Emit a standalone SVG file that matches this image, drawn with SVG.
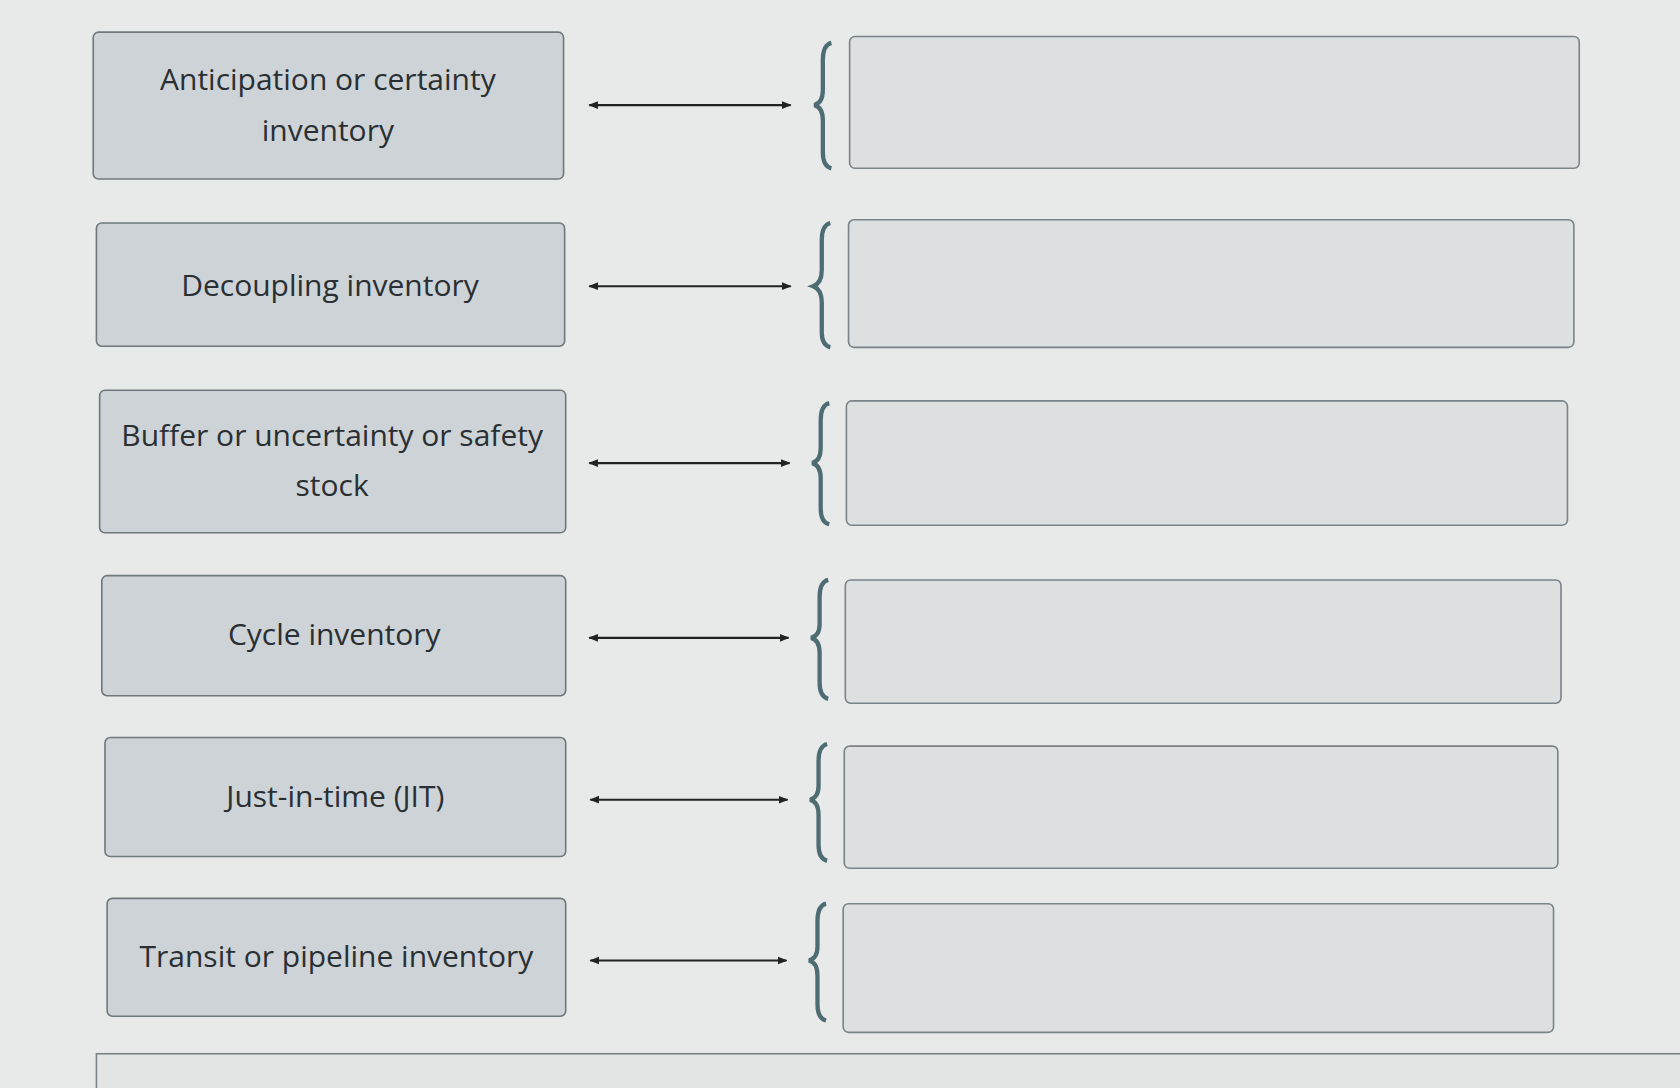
<svg xmlns="http://www.w3.org/2000/svg" width="1680" height="1088" viewBox="0 0 1680 1088">
<defs>
<marker id="ah" viewBox="0 0 10 10" refX="9" refY="5" markerWidth="4.5" markerHeight="4.5" orient="auto-start-reverse"><path d="M0,1 L10,5 L0,9 z" fill="#222"/></marker>
</defs>
<style>
.lb{fill:#cdd3d6;stroke:#6e787d;stroke-width:1.5}
.rb{fill:#dde0e1;stroke:#7a8388;stroke-width:1.5}
.t{font-family:"Open Sans","Liberation Sans",sans-serif;font-size:28px;fill:#2a2f33;text-anchor:middle}
.ar{stroke:#222;stroke-width:2;fill:none;marker-start:url(#ah);marker-end:url(#ah)}
.br{stroke:#4e6c74;stroke-width:4;fill:none}
</style>
<rect width="1680" height="1088" fill="#e8e9e9"/>
<g transform="scale(1.0714 1.072)">
<g id="n1"><rect class="lb" x="87" y="30" width="439" height="137" rx="5"/><text class="t" x="306" y="84">Anticipation or certainty</text><text class="t" x="306" y="132">inventory</text></g>
<g id="n2"><rect class="lb" x="90" y="208" width="437" height="115" rx="5"/><text class="t" x="308" y="276">Decoupling inventory</text></g>
<g id="n3"><rect class="lb" x="93" y="364" width="435" height="133" rx="5"/><text class="t" x="310" y="416">Buffer or uncertainty or safety</text><text class="t" x="310" y="463">stock</text></g>
<g id="n4"><rect class="lb" x="95" y="537" width="433" height="112" rx="5"/><text class="t" x="312" y="602">Cycle inventory</text></g>
<g id="n5"><rect class="lb" x="98" y="688" width="430" height="111" rx="5"/><text class="t" x="313" y="753">Just-in-time (JIT)</text></g>
<g id="n6"><rect class="lb" x="100" y="838" width="428" height="110" rx="5"/><text class="t" x="314" y="902">Transit or pipeline inventory</text></g>
<g id="r1"><rect class="rb" x="793" y="34" width="681" height="123" rx="5"/></g>
<g id="r2"><rect class="rb" x="792" y="205" width="677" height="119" rx="5"/></g>
<g id="r3"><rect class="rb" x="790" y="374" width="673" height="116" rx="5"/></g>
<g id="r4"><rect class="rb" x="789" y="541" width="668" height="115" rx="5"/></g>
<g id="r5"><rect class="rb" x="788" y="696" width="666" height="114" rx="5"/></g>
<g id="r6"><rect class="rb" x="787" y="843" width="663" height="120" rx="5"/></g>
<rect x="90" y="983" width="1500" height="60" fill="#e4e6e6" stroke="#7a8388" stroke-width="1.5"/>
<g id="connectors">
<line class="ar" x1="550" y1="98" x2="738" y2="98"/>
<line class="ar" x1="550" y1="267" x2="738" y2="267"/>
<line class="ar" x1="550" y1="432" x2="737" y2="432"/>
<line class="ar" x1="550" y1="595" x2="736" y2="595"/>
<line class="ar" x1="551" y1="746" x2="735" y2="746"/>
<line class="ar" x1="551" y1="896" x2="734" y2="896"/>
<path class="br" d="M776,40 Q768,42 768,56 L768,84 Q768,96 760,98 Q768,100 768,112 L768,142 Q768,155 776,157"/>
<path class="br" d="M775,208 Q767,210 767,224 L767,252 Q767,264 759,267 Q767,270 767,282 L767,310 Q767,322 775,324"/>
<path class="br" d="M774,376 Q766,378 766,392 L766,418 Q766,430 758,432 Q766,434 766,446 L766,474 Q766,487 774,489"/>
<path class="br" d="M773,541 Q765,543 765,557 L765,582 Q765,593 757,595 Q765,597 765,609 L765,637 Q765,650 773,652"/>
<path class="br" d="M772,694 Q764,696 764,710 L764,733 Q764,744 756,746 Q764,748 764,760 L764,788 Q764,801 772,803"/>
<path class="br" d="M771,843 Q763,845 763,859 L763,883 Q763,894 755,896 Q763,898 763,910 L763,937 Q763,950 771,952"/>
</g>
</g>
</svg>
